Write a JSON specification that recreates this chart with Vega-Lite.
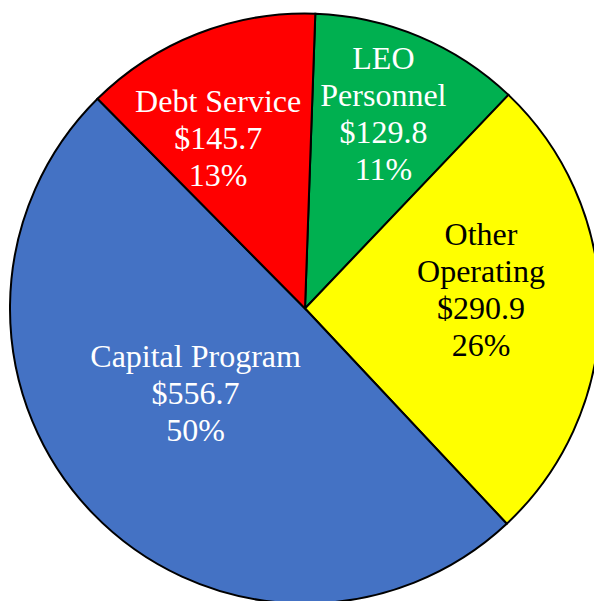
{
  "$schema": "https://vega.github.io/schema/vega-lite/v6.json",
  "width": 578,
  "height": 585,
  "padding": {"left": 16, "top": 16, "right": 0, "bottom": 0},
  "autosize": {"type": "none"},
  "background": "white",
  "config": {"view": {"stroke": null}},
  "data": {
    "values": [
      {"category": "LEO Personnel", "value": 129.8, "order": 1, "label": "LEO\nPersonnel\n$129.8\n11%"},
      {"category": "Other Operating", "value": 290.9, "order": 2, "label": "Other\nOperating\n$290.9\n26%"},
      {"category": "Capital Program", "value": 556.7, "order": 3, "label": "Capital Program\n$556.7\n50%"},
      {"category": "Debt Service", "value": 145.7, "order": 4, "label": "Debt Service\n$145.7\n13%"}
    ]
  },
  "encoding": {
    "theta": {"field": "value", "type": "quantitative", "stack": true, "scale": {"range": [0.0349, 6.3181]}},
    "order": {"field": "order", "type": "quantitative"}
  },
  "layer": [
    {
      "mark": {"type": "arc", "outerRadius": 295, "stroke": "black", "strokeWidth": 2},
      "encoding": {
        "color": {
          "field": "category",
          "type": "nominal",
          "scale": {
            "domain": ["LEO Personnel", "Other Operating", "Capital Program", "Debt Service"],
            "range": ["#00B050", "#FFFF00", "#4472C4", "#FF0000"]
          },
          "legend": null
        }
      }
    },
    {
      "mark": {
        "type": "text",
        "font": "Liberation Serif",
        "fontSize": 32,
        "lineHeight": 37,
        "lineBreak": "\n",
        "align": "center",
        "baseline": "middle",
        "fill": {"expr": "datum.category === 'Other Operating' ? 'black' : 'white'"},
        "radius": {"expr": "datum.category === 'Capital Program' ? 138 : datum.category === 'Debt Service' ? 189 : datum.category === 'LEO Personnel' ? 210 : 176"},
        "dx": {"expr": "datum.category === 'Capital Program' ? -10 : datum.category === 'Debt Service' ? -18 : datum.category === 'LEO Personnel' ? -3 : 0"},
        "dy": {"expr": "datum.category === 'Capital Program' ? -47 : datum.category === 'Debt Service' ? -30 : datum.category === 'LEO Personnel' ? -56 : -74"}
      },
      "encoding": {
        "text": {"field": "label", "type": "nominal"}
      }
    }
  ]
}
